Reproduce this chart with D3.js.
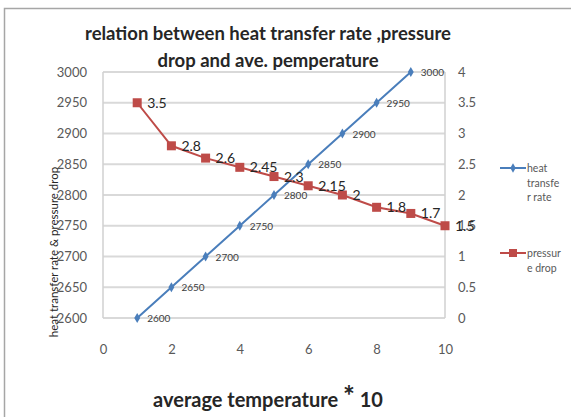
<!DOCTYPE html>
<html><head><meta charset="utf-8">
<script src="https://cdn.jsdelivr.net/npm/d3@7"></script>
<style>body{margin:0;background:#fff}svg{display:block}</style>
</head><body>
<svg id="c" width="571" height="417"></svg>
<script>
const xValues = [1,2,3,4,5,6,7,8,9,10];
const heatRate = [2600,2650,2700,2750,2800,2850,2900,2950,3000];
const pressureDrop = [3.5,2.8,2.6,2.45,2.3,2.15,2,1.8,1.7,1.5];
const xTicks = [0,2,4,6,8,10];
const leftTicks = [2600,2650,2700,2750,2800,2850,2900,2950,3000];
const rightTicks = [0,0.5,1,1.5,2,2.5,3,3.5,4];

const svg = d3.select('#c');
const font = 'Lato, "Open Sans", sans-serif';
const x = d3.scaleLinear().domain([0,10]).range([103,445]);
const yL = d3.scaleLinear().domain([2600,3000]).range([318,72]);
const yR = d3.scaleLinear().domain([0,4]).range([318,72]);

// frame
svg.append('rect').attr('x',4.5).attr('y',8.5).attr('width',600).attr('height',500)
  .attr('fill','none').attr('stroke','#a6a6a6').attr('stroke-width',1.5);

// gridlines
svg.append('g').selectAll('line').data(leftTicks).join('line')
  .attr('x1',x(0)).attr('x2',x(10)).attr('y1',d=>yL(d)).attr('y2',d=>yL(d))
  .attr('stroke','#d9d9d9').attr('stroke-width',2);

// axis lines
svg.append('line').attr('x1',x(0)).attr('x2',x(0)).attr('y1',yL(3000)).attr('y2',yL(2600)).attr('stroke','#d0d0d0').attr('stroke-width',1.5);
svg.append('line').attr('x1',x(10)).attr('x2',x(10)).attr('y1',yL(3000)).attr('y2',yL(2600)).attr('stroke','#d0d0d0').attr('stroke-width',1.5);

// left ticks
const axL = d3.axisLeft(yL).tickValues(leftTicks).tickSize(0).tickPadding(16).tickFormat(d3.format('d'));
const gL = svg.append('g').attr('transform',`translate(${x(0)},0)`).call(axL);
gL.select('.domain').remove();
gL.selectAll('text').attr('font-family',font).attr('font-size',13).attr('fill','#595959');

const axR = d3.axisRight(yR).tickValues(rightTicks).tickSize(0).tickPadding(13).tickFormat(d=>String(d));
const gR = svg.append('g').attr('transform',`translate(${x(10)},0)`).call(axR);
gR.select('.domain').remove();
gR.selectAll('text').attr('font-family',font).attr('font-size',13).attr('fill','#595959');

const axB = d3.axisBottom(x).tickValues(xTicks).tickSize(0).tickPadding(27);
const gB = svg.append('g').attr('transform',`translate(0,${yL(2600)})`).call(axB);
gB.select('.domain').remove();
gB.selectAll('text').attr('font-family',font).attr('font-size',13).attr('fill','#595959');

// heat line
const heatData = heatRate.map((v,i)=>({x:xValues[i],y:v}));
svg.append('path').datum(heatData).attr('fill','none').attr('stroke','#4a7ebb').attr('stroke-width',2)
  .attr('d',d3.line().x(d=>x(d.x)).y(d=>yL(d.y)));
svg.append('g').selectAll('path').data(heatData).join('path')
  .attr('transform',d=>`translate(${x(d.x)},${yL(d.y)})`)
  .attr('d',d3.symbol(d3.symbolDiamond,30)).attr('fill','#4a7ebb');
svg.append('g').selectAll('text').data(heatData).join('text')
  .attr('x',d=>x(d.x)+10).attr('y',d=>yL(d.y)+4)
  .attr('font-family',font).attr('font-size',10).attr('fill','#404040').text(d=>d.y);

// pressure line
const pData = pressureDrop.map((v,i)=>({x:xValues[i],y:v}));
svg.append('path').datum(pData).attr('fill','none').attr('stroke','#be4b48').attr('stroke-width',2)
  .attr('d',d3.line().x(d=>x(d.x)).y(d=>yR(d.y)));
svg.append('g').selectAll('rect').data(pData).join('rect')
  .attr('x',d=>x(d.x)-4.5).attr('y',d=>yR(d.y)-4.5).attr('width',9).attr('height',9).attr('fill','#be4b48');
svg.append('g').selectAll('text').data(pData).join('text')
  .attr('x',d=>x(d.x)+10).attr('y',d=>yR(d.y)+5)
  .attr('font-family',font).attr('font-size',14).attr('fill','#262626').text(d=>d.y);

// title
const t = svg.append('text').attr('text-anchor','middle').attr('font-family',font).attr('font-weight','bold')
  .attr('font-size',18.5).attr('fill','#262626');
t.append('tspan').attr('x',268).attr('y',40).text('relation between heat transfer rate ,pressure');
t.append('tspan').attr('x',268).attr('y',67).text('drop and ave. pemperature');

// y title
svg.append('text').attr('transform','translate(58,252) rotate(-90)').attr('text-anchor','middle')
  .attr('font-family',font).attr('font-size',11.5).attr('fill','#262626').text('heat transfer rate & pressure drop');

// x title
const xt = svg.append('text').attr('x',268).attr('y',407).attr('text-anchor','middle')
  .attr('font-family',font).attr('font-weight','bold').attr('font-size',20).attr('fill','#262626');
xt.append('tspan').text('average temperature ');
xt.append('tspan').attr('font-size',28).attr('dy',-1).text('*');
xt.append('tspan').attr('dy',1).text('  10');

// legend
const legend = [
  {lines:['heat','transfe','r rate'], color:'#4a7ebb', sym:'d', y:168},
  {lines:['pressur','e drop'], color:'#be4b48', sym:'s', y:253}
];
legend.forEach(l=>{
  svg.append('line').attr('x1',500).attr('x2',526).attr('y1',l.y).attr('y2',l.y).attr('stroke',l.color).attr('stroke-width',2);
  if(l.sym==='d') svg.append('path').attr('transform',`translate(513,${l.y})`).attr('d',d3.symbol(d3.symbolDiamond,25)).attr('fill',l.color);
  else svg.append('rect').attr('x',509).attr('y',l.y-4).attr('width',8).attr('height',8).attr('fill',l.color);
  const tx = svg.append('text').attr('font-family',font).attr('font-size',10.5).attr('fill','#595959');
  l.lines.forEach((s,i)=>tx.append('tspan').attr('x',527).attr('y',l.y+4+i*14.5).text(s));
});
</script>
</body></html>
